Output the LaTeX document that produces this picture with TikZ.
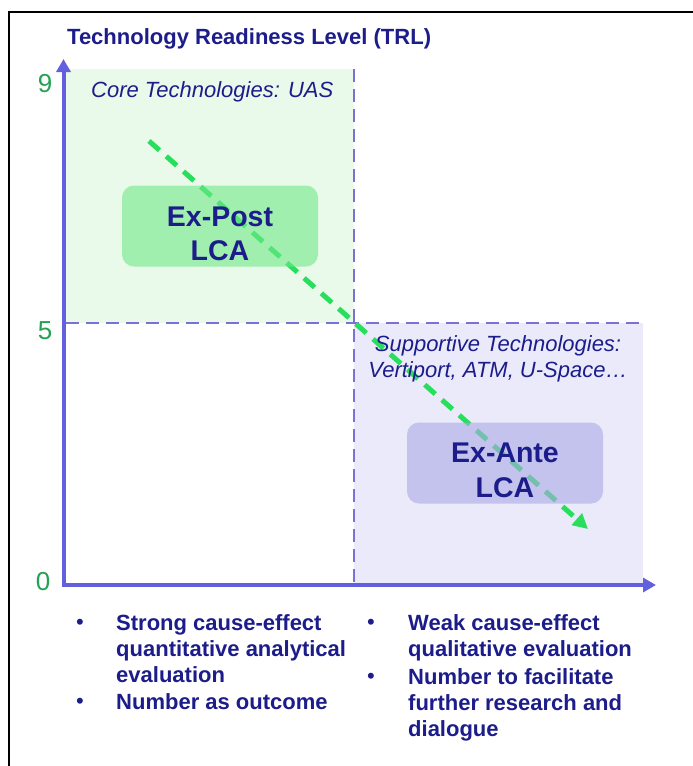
\documentclass[tikz,border=0pt]{standalone}
\usepackage{fontspec}
\setmainfont{Liberation Sans}
\usetikzlibrary{arrows.meta}

\definecolor{navy}{RGB}{28,28,138}
\definecolor{axisblue}{RGB}{98,96,222}
\definecolor{gridblue}{RGB}{122,112,214}
\definecolor{trlgreen}{RGB}{34,162,82}
\definecolor{flowgreen}{RGB}{40,222,92}
\definecolor{coreback}{RGB}{233,250,234}
\definecolor{suppback}{RGB}{234,234,250}
\definecolor{postfill}{RGB}{112,233,137}
\definecolor{antefill}{RGB}{170,170,230}

\tikzset{
  frameline/.style={line width=2pt, black},
  gridline/.style={gridblue, line width=1.8pt, dash pattern=on 13pt off 7pt},
  axisline/.style={axisblue, line width=4pt, line join=miter,
    {Triangle[length=13pt,width=14pt]}-{Triangle[length=13pt,width=14pt]}},
  flowline/.style={flowgreen, line width=5pt, dash pattern=on 14pt off 9pt,
    -{Triangle[length=15pt,width=15pt]}},
  lcabox/.style={rounded corners=12pt, minimum width=196pt, minimum height=81pt,
    inner sep=0pt, fill opacity=0.6, draw=none},
  lcatext/.style={font=\fontsize{28.5}{34}\selectfont\bfseries, text=navy,
    anchor=base, inner sep=0pt},
  title/.style={font=\fontsize{22}{26}\selectfont\bfseries, text=navy,
    anchor=base west, inner sep=0pt},
  area/.style={font=\fontsize{22}{26}\selectfont\itshape, text=navy, inner sep=0pt},
  level/.style={font=\fontsize{26}{30}\selectfont, text=trlgreen, anchor=base, inner sep=0pt},
  point/.style={font=\fontsize{22}{26}\selectfont\bfseries, text=navy,
    anchor=base west, inner sep=0pt},
  dot/.style={font=\fontsize{22}{26}\selectfont, text=navy, anchor=base, inner sep=0pt},
}

\begin{document}
\begin{tikzpicture}[x=1pt,y=-1pt]
\useasboundingbox (0,0) rectangle (693,766);

% frame on the top and left sides
\draw[frameline] (9,766) -- (9,12) -- (693,12);

% quadrant backgrounds
\fill[coreback] (66,69) rectangle (354,323);
\fill[suppback] (354,323) rectangle (643,583);

% TRL 5 divider lines
\coordinate (vtop) at (354,69);
\coordinate (vbot) at (354,583);
\coordinate (hleft) at (66,323);
\coordinate (hright) at (643,323);
\draw[gridline] (vtop) -- (vbot);
\draw[gridline] (hleft) -- (hright);

% axes
\coordinate (ytip) at (63.5,59);
\coordinate (origin) at (63.5,585);
\coordinate (xtip) at (656,585);
\draw[axisline] (ytip) -- (origin) -- (xtip);

% transition from ex-post to ex-ante
\coordinate (flowstart) at (149,141);
\coordinate (flowend) at (588,529);
\draw[flowline] (flowstart) -- (flowend);

% assessment boxes
\node[lcabox, fill=postfill] (postbox) at (220,226) {};
\node[lcabox, fill=antefill] (antebox) at (505,463) {};
\node[lcatext] (post1) at (220,226) {Ex-Post};
\node[lcatext] (post2) at (220,260) {LCA};
\node[lcatext] (ante1) at (505,462) {Ex-Ante};
\node[lcatext] (ante2) at (505,497) {LCA};

% titles and area labels
\node[title] (trl) at (67,44) {Technology Readiness Level (TRL)};
\node[area, anchor=base west] (core) at (91,97) {Core Technologies: UAS};
\node[area, anchor=base] (supp1) at (498,351) {Supportive Technologies:};
\node[area, anchor=base] (supp2) at (498,377) {Vertiport, ATM, U-Space…};

% TRL levels
\node[level] (l9) at (45,92.5) {9};
\node[level] (l5) at (45,339) {5};
\node[level] (l0) at (43,590) {0};

% characteristics below the axis
\node[dot] (bl1) at (80,629) {•};
\node[point] (sl1) at (116,630) {Strong cause-effect};
\node[point] (sl2) at (116,656) {quantitative analytical};
\node[point] (sl3) at (116,682) {evaluation};
\node[dot] (bl2) at (80,708) {•};
\node[point] (sl4) at (116,709) {Number as outcome};

\node[dot] (br1) at (371,629) {•};
\node[point] (wr1) at (408,630) {Weak cause-effect};
\node[point] (wr2) at (408,656) {qualitative evaluation};
\node[dot] (br2) at (371,683) {•};
\node[point] (wr3) at (408,684) {Number to facilitate};
\node[point] (wr4) at (408,710) {further research and};
\node[point] (wr5) at (408,736) {dialogue};
\end{tikzpicture}
\end{document}
